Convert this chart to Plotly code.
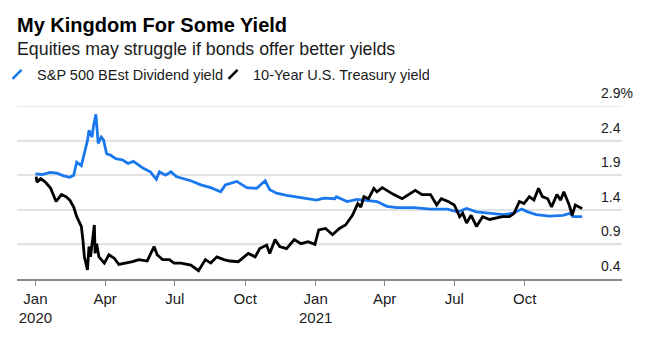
import plotly.graph_objects as go

# ---------------- data ----------------
div_dates = [
    "2020-01-01", "2020-01-10", "2020-01-20", "2020-01-29", "2020-02-07", "2020-02-15",
    "2020-02-20", "2020-02-24", "2020-03-01", "2020-03-05", "2020-03-09", "2020-03-11",
    "2020-03-15", "2020-03-17", "2020-03-20", "2020-03-23", "2020-03-27", "2020-03-30",
    "2020-04-03", "2020-04-08", "2020-04-15", "2020-04-24", "2020-05-01", "2020-05-08",
    "2020-05-14", "2020-05-21", "2020-05-30", "2020-06-07", "2020-06-11", "2020-06-19",
    "2020-06-26", "2020-07-03", "2020-07-09", "2020-07-22", "2020-08-04", "2020-08-17",
    "2020-08-30", "2020-09-05", "2020-09-20", "2020-10-03", "2020-10-16", "2020-10-27",
    "2020-11-02", "2020-11-11", "2020-11-24", "2020-12-07", "2020-12-20", "2021-01-02",
    "2021-01-12", "2021-01-26", "2021-01-28", "2021-02-11", "2021-02-24", "2021-03-09",
    "2021-03-22", "2021-04-04", "2021-04-17", "2021-05-09", "2021-05-31", "2021-06-22",
    "2021-07-05", "2021-07-08", "2021-07-17", "2021-07-30", "2021-08-17", "2021-09-03",
    "2021-09-16", "2021-09-27", "2021-10-05", "2021-10-16", "2021-11-02", "2021-11-20",
    "2021-11-29", "2021-12-03", "2021-12-15",
]
div_vals = [
    1.92, 1.91, 1.94, 1.93, 1.89, 1.87,
    1.90, 2.09, 2.04, 2.22, 2.40, 2.55,
    2.45, 2.62, 2.78, 2.36, 2.45, 2.41,
    2.21, 2.19, 2.14, 2.12, 2.07, 2.10,
    2.05, 2.00, 1.95, 1.84, 1.95, 1.90,
    1.95, 1.88, 1.86, 1.82, 1.76, 1.72,
    1.66, 1.76, 1.81, 1.72, 1.71, 1.82,
    1.69, 1.64, 1.61, 1.59, 1.56, 1.54,
    1.57, 1.56, 1.59, 1.52, 1.55, 1.53,
    1.52, 1.45, 1.43, 1.43, 1.41, 1.41,
    1.37, 1.38, 1.42, 1.37, 1.35, 1.33,
    1.35, 1.41, 1.37, 1.33, 1.31, 1.32,
    1.35, 1.30, 1.30,
]

tsy_dates = [
    "2020-01-02", "2020-01-03", "2020-01-08", "2020-01-14", "2020-01-21", "2020-01-28",
    "2020-02-04", "2020-02-10", "2020-02-15", "2020-02-20", "2020-02-24", "2020-03-01",
    "2020-03-03", "2020-03-05", "2020-03-09", "2020-03-11", "2020-03-13", "2020-03-16",
    "2020-03-18", "2020-03-19", "2020-03-21", "2020-03-24", "2020-03-31", "2020-04-06",
    "2020-04-13", "2020-04-19", "2020-04-28", "2020-05-07", "2020-05-15", "2020-05-26",
    "2020-06-04", "2020-06-08", "2020-06-15", "2020-06-24", "2020-06-30", "2020-07-09",
    "2020-07-22", "2020-08-01", "2020-08-10", "2020-08-17", "2020-08-25", "2020-09-03",
    "2020-09-11", "2020-09-22", "2020-10-05", "2020-10-14", "2020-10-20", "2020-10-29",
    "2020-11-02", "2020-11-09", "2020-11-15", "2020-11-24", "2020-12-04", "2020-12-13",
    "2020-12-22", "2020-12-31", "2021-01-05", "2021-01-14", "2021-01-23", "2021-02-01",
    "2021-02-09", "2021-02-18", "2021-02-25", "2021-03-01", "2021-03-05", "2021-03-11",
    "2021-03-18", "2021-03-22", "2021-03-29", "2021-04-04", "2021-04-13", "2021-04-24",
    "2021-05-02", "2021-05-11", "2021-05-20", "2021-05-31", "2021-06-08", "2021-06-14",
    "2021-06-23", "2021-07-01", "2021-07-08", "2021-07-12", "2021-07-17", "2021-07-23",
    "2021-07-30", "2021-08-07", "2021-08-16", "2021-08-25", "2021-09-02", "2021-09-11",
    "2021-09-17", "2021-09-24", "2021-09-30", "2021-10-07", "2021-10-13", "2021-10-19",
    "2021-10-24", "2021-10-31", "2021-11-05", "2021-11-12", "2021-11-17", "2021-11-21",
    "2021-11-28", "2021-12-02", "2021-12-06", "2021-12-11", "2021-12-15",
]
tsy_vals = [
    1.88, 1.80, 1.85, 1.80, 1.71, 1.52,
    1.62, 1.59, 1.54, 1.44, 1.30, 1.16,
    0.97, 0.72, 0.53, 0.87, 0.72, 0.97,
    1.18, 0.77, 0.91, 0.72, 0.63, 0.75,
    0.70, 0.61, 0.63, 0.65, 0.68, 0.66,
    0.87, 0.75, 0.68, 0.68, 0.63, 0.63,
    0.60, 0.52, 0.68, 0.63, 0.72, 0.68,
    0.66, 0.65, 0.77, 0.72, 0.84, 0.89,
    0.77, 0.97, 0.87, 0.84, 0.97, 0.91,
    0.94, 0.90, 1.11, 1.13, 1.04, 1.13,
    1.18, 1.32, 1.49, 1.44, 1.59, 1.56,
    1.71, 1.66, 1.72, 1.68, 1.62, 1.56,
    1.62, 1.68, 1.62, 1.62, 1.47, 1.56,
    1.52, 1.47, 1.30, 1.35, 1.21, 1.32,
    1.16, 1.30, 1.26, 1.28, 1.30, 1.30,
    1.35, 1.52, 1.49, 1.59, 1.54, 1.71,
    1.59, 1.56, 1.44, 1.62, 1.54, 1.66,
    1.47, 1.32, 1.47, 1.44, 1.42,
]

series_names = ["S&P 500 BEst Dividend yield", "10-Year U.S. Treasury yield"]

x_tick_vals = ["2020-01-01", "2020-04-01", "2020-07-01", "2020-10-01",
               "2021-01-01", "2021-04-01", "2021-07-01", "2021-10-01"]
x_tick_text = ["Jan<br>2020", "Apr", "Jul", "Oct", "Jan<br>2021", "Apr", "Jul", "Oct"]

y_tick_vals = [0.4, 0.9, 1.4, 1.9, 2.4, 2.9]
y_tick_text = ["0.4", "0.9", "1.4", "1.9", "2.4", "2.9%"]

# ---------------- style ----------------
BLUE = "#1a78ef"
BLACK = "#000000"
FONT = "Liberation Sans, Arial, sans-serif"
TXT = "#1a1a1a"
GRID = "#e2e2e2"
Y_RANGE = [0.4, 2.9]

fig = go.Figure()

# blue on the grid axis (y), black on the label axis (y2, drawn on top)
fig.add_trace(go.Scatter(x=div_dates, y=div_vals, mode="lines", yaxis="y",
                         line=dict(color=BLUE, width=2.8), showlegend=False,
                         name=series_names[0]))
fig.add_trace(go.Scatter(x=tsy_dates, y=tsy_vals, mode="lines", yaxis="y2",
                         line=dict(color=BLACK, width=2.8), showlegend=False,
                         name=series_names[1]))

# legend entries (slanted line symbol)
for nm, col in zip(series_names, [BLUE, BLACK]):
    fig.add_trace(go.Scatter(x=[None], y=[None], mode="markers", name=nm,
                             marker=dict(symbol="line-ne", size=9,
                                         line=dict(color=col, width=2.6))))

# horizontal reference lines at the y tick values (the bottom one is the axis line)
grid_shapes = [
    dict(type="line", xref="paper", x0=0, x1=1, yref="y", y0=v, y1=v,
         line=dict(color=GRID, width=1.5), layer="below")
    for v in y_tick_vals[1:]
]

fig.update_layout(
    template="none",
    width=654, height=341,
    margin=dict(l=17, r=32, t=106, b=62, autoexpand=False),
    paper_bgcolor="white", plot_bgcolor="white",
    font=dict(family=FONT, color=TXT, size=14),
    showlegend=True,
    legend=dict(orientation="h", x=-0.033, xanchor="left", y=1.275, yanchor="top",
                font=dict(size=14.5, color=TXT), itemwidth=30,
                entrywidth=171, entrywidthmode="pixels",
                bgcolor="rgba(0,0,0,0)", tracegroupgap=0),
    xaxis=dict(type="date", range=["2019-12-08", "2022-02-05"],
               tickvals=x_tick_vals, ticktext=x_tick_text,
               ticks="outside", ticklen=5, tickwidth=1.2, tickcolor="#8a8a8a",
               showline=True, linecolor="#8a8a8a", linewidth=1.5,
               showgrid=False, zeroline=False,
               tickfont=dict(size=15, color=TXT), automargin=False),
    # grid axis
    yaxis=dict(range=Y_RANGE, side="left", tickmode="linear", tick0=0.4, dtick=0.5,
               showticklabels=False, tickcolor="rgba(0,0,0,0)", ticklen=0,
               showline=False, zeroline=False,
               showgrid=True, gridcolor=GRID, gridwidth=1.5,
               automargin=False),
    # label axis
    yaxis2=dict(range=Y_RANGE, side="right", overlaying="y",
                tickmode="array", tickvals=y_tick_vals, ticktext=y_tick_text,
                ticks="", showline=False, zeroline=False, showgrid=False,
                ticklabelposition="outside", ticklabelstandoff=-22,
                ticklabelshift=-13,
                tickfont=dict(size=14, color=TXT), automargin=False),
    shapes=grid_shapes,
    annotations=[
        dict(text="<b>My Kingdom For Some Yield</b>", xref="paper", yref="paper",
             x=-0.0035, y=1.545, xanchor="left", yanchor="top", showarrow=False,
             font=dict(size=20, color="#000000", family=FONT)),
        dict(text="Equities may struggle if bonds offer better yields",
             xref="paper", yref="paper", x=-0.0035, y=1.40, xanchor="left",
             yanchor="top", showarrow=False,
             font=dict(size=17.8, color=TXT, family=FONT)),
    ],
)

fig.write_html("out.html")
